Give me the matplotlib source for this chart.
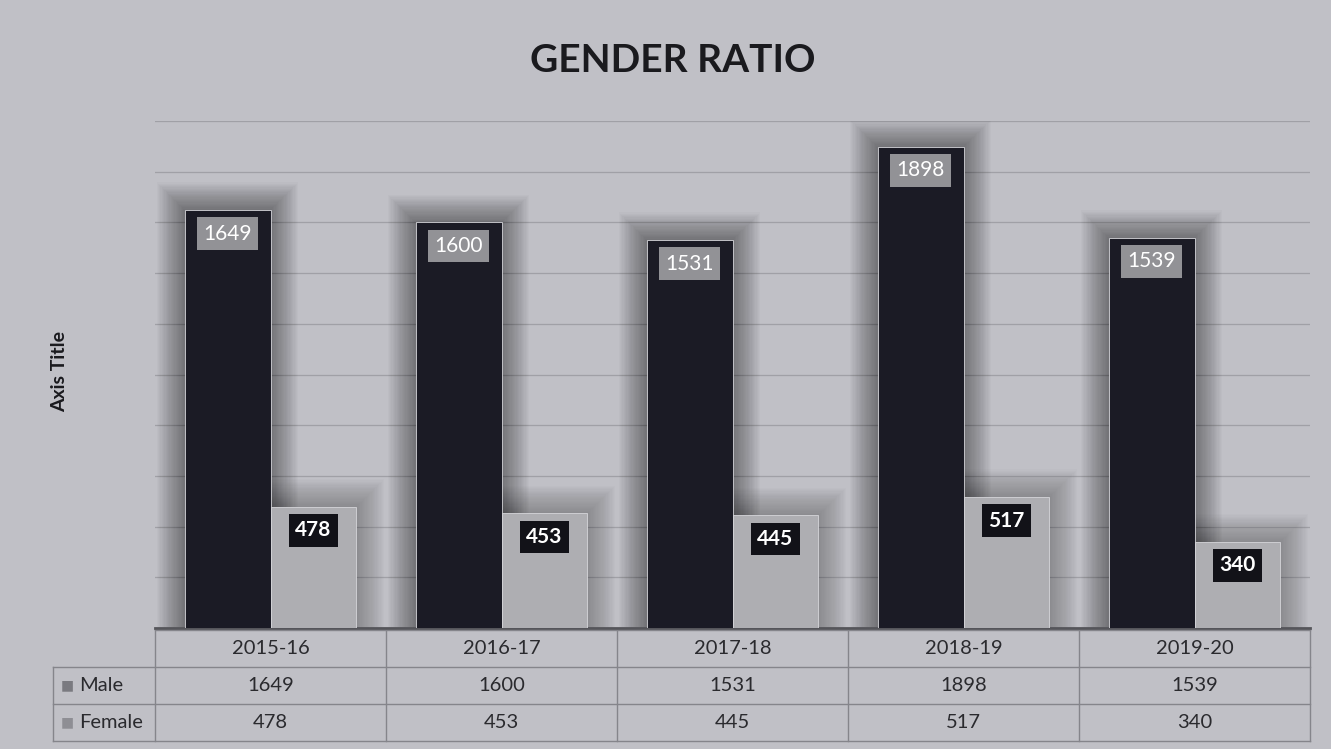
import matplotlib
matplotlib.use("Agg")
import matplotlib.pyplot as plt
import matplotlib.transforms as mtransforms
import numpy as np

categories = ["2015-16", "2016-17", "2017-18", "2018-19", "2019-20"]
male = [1649, 1600, 1531, 1898, 1539]
female = [478, 453, 445, 517, 340]
series_names = ["Male", "Female"]

plt.rcParams['font.family'] = ['Lato', 'DejaVu Sans']

BG = "#c0c0c6"
MALE_C = "#1b1b25"
FEMALE_C = "#aeaeb2"

fig = plt.figure(figsize=(13.31, 7.49), dpi=100, facecolor=BG)
ax = fig.add_axes([155/1331, 1-628/749, 1155/1331, 507/749])
ax.set_facecolor(BG)

x = np.arange(len(categories))
w = 0.372

# soft glow behind bars
n_glow = 22
for k in range(n_glow):
    ext = (k + 1) * 0.0055
    ax.bar(x - w - ext, np.array(male) + ext * 900, width=w + 2 * ext, align='edge',
           color='black', alpha=0.02, zorder=1, linewidth=0)
    ax.bar(x - ext, np.array(female) + ext * 900, width=w + 2 * ext, align='edge',
           color='black', alpha=0.013, zorder=1, linewidth=0)

mb = ax.bar(x - w, male, width=w, align='edge', color=MALE_C, zorder=3,
            edgecolor="#d6d6da", linewidth=0.6)
fb = ax.bar(x, female, width=w, align='edge', color=FEMALE_C, zorder=3,
            edgecolor="#d6d6da", linewidth=0.6)

for rect, v in zip(mb, male):
    ax.annotate(str(v), (rect.get_x() + rect.get_width() / 2, v), xytext=(0, -17),
                textcoords='offset points', ha='center', va='center', color='white',
                fontsize=15, zorder=5,
                bbox=dict(boxstyle='square,pad=0.3', fc='#929296', ec='none'))
for rect, v in zip(fb, female):
    ax.annotate(str(v), (rect.get_x() + rect.get_width() / 2, v), xytext=(0, -17),
                textcoords='offset points', ha='center', va='center', color='white',
                fontsize=15, fontweight='bold', zorder=5,
                bbox=dict(boxstyle='square,pad=0.3', fc='#121218', ec='none'))

ax.set_xlim(-0.5, len(categories) - 0.5)
ax.set_ylim(0, 2000)
ax.set_yticks(np.arange(200, 2001, 200))
ax.yaxis.grid(True, color="#a0a0a6", linewidth=0.9, zorder=0)
ax.set_axisbelow(True)
ax.tick_params(left=False, labelleft=False, bottom=False, labelbottom=False)
for s in ["top", "right", "left"]:
    ax.spines[s].set_visible(False)
ax.spines["bottom"].set_color("#55555a")
ax.spines["bottom"].set_linewidth(2)

# ---- data table (drawn below the axes) ----
def yf(p):
    return (628 - p) / 507

def xf(p):
    return (p - 155) / 1155

edge = "#85858b"
txt_c = "#2a2a2e"
blend = mtransforms.blended_transform_factory(ax.transData, ax.transAxes)
row_edges = [630, 667, 704, 741]
left_px = 53
ncat = len(categories)
kw = dict(color=edge, linewidth=1.0, clip_on=False, zorder=2)
# horizontal lines
ax.plot([-0.5, ncat - 0.5], [yf(row_edges[0])] * 2, transform=blend, **kw)
for p in row_edges[1:]:
    ax.plot([xf(left_px), 1.0], [yf(p)] * 2, transform=ax.transAxes, **kw)
# vertical lines
ax.plot([xf(left_px)] * 2, [yf(row_edges[1]), yf(row_edges[3])], transform=ax.transAxes, **kw)
for b in np.arange(ncat + 1) - 0.5:
    ax.plot([b, b], [yf(row_edges[0]), yf(row_edges[3])], transform=blend, **kw)

rows = [categories, male, female]
for r in range(3):
    yc = yf((row_edges[r] + row_edges[r + 1]) / 2)
    for j in range(ncat):
        ax.text(j, yc, str(rows[r][j]), transform=blend, ha='center', va='center',
                fontsize=14.5, color=txt_c)
    if r > 0:
        ax.text(xf(79), yc, series_names[r - 1], transform=ax.transAxes, ha='left',
                va='center', fontsize=14.5, color=txt_c)
        ax.text(xf(61), yc, "■", transform=ax.transAxes, ha='left', va='center',
                fontsize=10, color=["#7a7a80", "#8e8e94"][r - 1], family='DejaVu Sans')

fig.text(673/1331, 1 - 60/749, "GENDER RATIO", ha='center', va='center',
         fontsize=28, fontweight='bold', color="#1a1a1e")
fig.text(60/1331, 1 - 372/749, "Axis Title", ha='center', va='center', rotation=90,
         fontsize=14, fontweight='bold', color="#1a1a1e")

fig.savefig("out.png", dpi=100, facecolor=BG)
